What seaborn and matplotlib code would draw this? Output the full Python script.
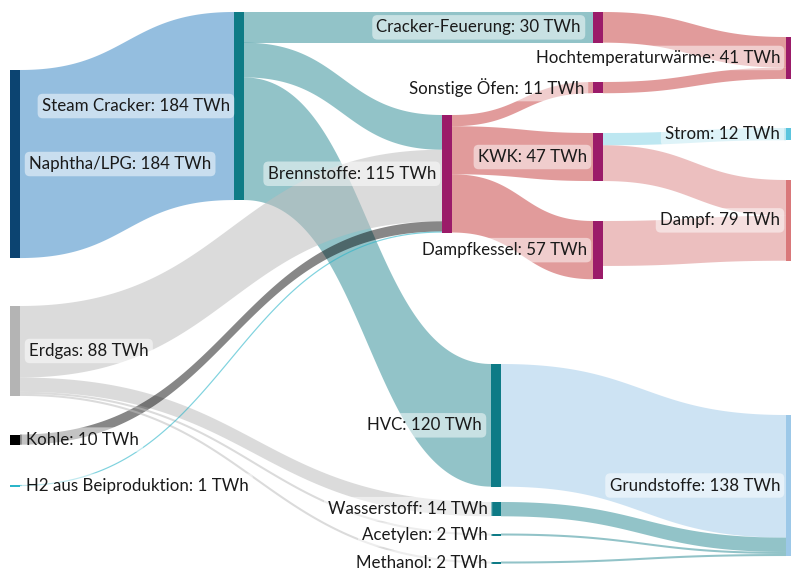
import numpy as np
import matplotlib
matplotlib.use('Agg')
import matplotlib.pyplot as plt
from matplotlib.patches import Rectangle, Polygon
import seaborn as sns


#%%
#--Data (TWh)
node_names = ['Naphtha/LPG', 'Erdgas', 'Kohle', 'H2 aus Beiproduktion',
              'Steam Cracker', 'Brennstoffe', 'HVC', 'Wasserstoff', 'Acetylen', 'Methanol',
              'Cracker-Feuerung', 'Sonstige Öfen', 'KWK', 'Dampfkessel',
              'Hochtemperaturwärme', 'Strom', 'Dampf', 'Grundstoffe']
node_values = [184, 88, 10, 1,
               184, 115, 120, 14, 2, 2,
               30, 11, 47, 57,
               41, 12, 79, 138]

link_source = ['Naphtha/LPG', 'Steam Cracker', 'Steam Cracker', 'Steam Cracker',
               'Erdgas', 'Erdgas', 'Erdgas', 'Erdgas', 'Kohle', 'H2 aus Beiproduktion',
               'Brennstoffe', 'Brennstoffe', 'Brennstoffe',
               'Cracker-Feuerung', 'Sonstige Öfen', 'KWK', 'KWK', 'Dampfkessel',
               'HVC', 'Wasserstoff', 'Acetylen', 'Methanol']
link_target = ['Steam Cracker', 'Cracker-Feuerung', 'Brennstoffe', 'HVC',
               'Brennstoffe', 'Wasserstoff', 'Acetylen', 'Methanol', 'Brennstoffe', 'Brennstoffe',
               'Sonstige Öfen', 'KWK', 'Dampfkessel',
               'Hochtemperaturwärme', 'Hochtemperaturwärme', 'Strom', 'Dampf', 'Dampf',
               'Grundstoffe', 'Grundstoffe', 'Grundstoffe', 'Grundstoffe']
link_value = [184, 30, 34, 120,
              70, 14, 2, 2, 10, 1,
              11, 47, 57,
              30, 11, 12, 35, 44,
              120, 14, 2, 2]


#%%
#--Layout (pixels, figure is 791x572)
px_per_twh = 1.022
node_w = 10
node_x = {'Naphtha/LPG': 10, 'Erdgas': 10, 'Kohle': 10, 'H2 aus Beiproduktion': 10,
          'Steam Cracker': 234, 'Brennstoffe': 442,
          'HVC': 491, 'Wasserstoff': 491, 'Acetylen': 491, 'Methanol': 491,
          'Cracker-Feuerung': 593, 'Sonstige Öfen': 593, 'KWK': 593, 'Dampfkessel': 593,
          'Hochtemperaturwärme': 786, 'Strom': 786, 'Dampf': 786, 'Grundstoffe': 786}
node_y = {'Naphtha/LPG': 70, 'Erdgas': 306, 'Kohle': 434.5, 'H2 aus Beiproduktion': 485,
          'Steam Cracker': 12, 'Brennstoffe': 115,
          'HVC': 364, 'Wasserstoff': 502, 'Acetylen': 533.5, 'Methanol': 561.5,
          'Cracker-Feuerung': 12, 'Sonstige Öfen': 82, 'KWK': 133, 'Dampfkessel': 221,
          'Hochtemperaturwärme': 37, 'Strom': 128, 'Dampf': 180, 'Grundstoffe': 415}
#label on the right of the node for the source column, else left
label_right = ['Naphtha/LPG', 'Erdgas', 'Kohle', 'H2 aus Beiproduktion']
label_gap = {'Steam Cracker': 4, 'Wasserstoff': 3, 'Acetylen': 3, 'Methanol': 3,
             'HVC': 9, 'Cracker-Feuerung': 12, 'Sonstige Öfen': 9}

magenta = '#9b1b69'
teal = '#0e7b86'
node_color = {'Naphtha/LPG': '#0c4471', 'Erdgas': '#b4b4b4', 'Kohle': '#000000',
              'H2 aus Beiproduktion': '#2bb5c9', 'Steam Cracker': teal, 'Brennstoffe': magenta,
              'HVC': teal, 'Wasserstoff': teal, 'Acetylen': teal, 'Methanol': teal,
              'Cracker-Feuerung': magenta, 'Sonstige Öfen': magenta, 'KWK': magenta,
              'Dampfkessel': magenta, 'Hochtemperaturwärme': magenta,
              'Strom': '#5bc5de', 'Dampf': '#d9787a', 'Grundstoffe': '#9cc8e8'}

def link_color(s, t):
    if s == 'Naphtha/LPG':
        return ('#2a7fc0', 0.5)
    if s == 'Erdgas':
        return ('#bebebe', 0.55)
    if s == 'Kohle':
        return ('#000000', 0.47)
    if s == 'H2 aus Beiproduktion':
        return ('#2bb5c9', 0.6)
    if s == 'HVC':
        return ('#9cc8e8', 0.5)
    if t == 'Strom':
        return ('#5bc5de', 0.4)
    if t == 'Dampf':
        return ('#c94a4a', 0.35)
    if node_color[s] == teal:
        return (teal, 0.45)
    return ('#c94a4a', 0.55)


#%%
#--Stack link ends on the nodes (ordered by the other end's centre)
def centre(n):
    return node_y[n] + node_values[node_names.index(n)] * px_per_twh / 2

n_links = len(link_value)
src_off = np.zeros(n_links)
tgt_off = np.zeros(n_links)
for n in node_names:
    outs = sorted([i for i in range(n_links) if link_source[i] == n], key=lambda i: centre(link_target[i]))
    y = node_y[n]
    for i in outs:
        src_off[i] = y
        y += link_value[i] * px_per_twh
    ins = sorted([i for i in range(n_links) if link_target[i] == n], key=lambda i: centre(link_source[i]))
    y = node_y[n]
    for i in ins:
        tgt_off[i] = y
        y += link_value[i] * px_per_twh


#%%
#--Plot
sns.set_theme(style='white')
plt.rcParams['font.family'] = ['Lato', 'DejaVu Sans']

fig = plt.figure(figsize=(7.91, 5.72), dpi=100)
ax = fig.add_axes([0, 0, 1, 1])
ax.set_xlim(0, 791)
ax.set_ylim(572, 0)
ax.axis('off')

t = np.linspace(0, 1, 120)
for i in range(n_links):
    s, g = link_source[i], link_target[i]
    x0 = node_x[s] + node_w
    x1 = node_x[g]
    xm = (x0 + x1) / 2
    xs = (1 - t)**3 * x0 + 3 * (1 - t)**2 * t * xm + 3 * (1 - t) * t**2 * xm + t**3 * x1
    h = 3 * t**2 - 2 * t**3
    th = link_value[i] * px_per_twh
    top = src_off[i] + (tgt_off[i] - src_off[i]) * h
    col, a = link_color(s, g)
    if th < 3:
        ax.plot(xs, top + th / 2, color=col, alpha=a, lw=max(th, 1.2) * 0.72, solid_capstyle='butt')
    else:
        pts = np.vstack([np.column_stack([xs, top]), np.column_stack([xs[::-1], (top + th)[::-1]])])
        ax.add_patch(Polygon(pts, closed=True, facecolor=col, alpha=a, edgecolor='none'))

for n, v in zip(node_names, node_values):
    hgt = max(v * px_per_twh, 1.5)
    ax.add_patch(Rectangle((node_x[n], node_y[n]), node_w, hgt, facecolor=node_color[n], edgecolor='none'))

box = dict(boxstyle='round,pad=0.25,rounding_size=0.3', facecolor='white', alpha=0.5, edgecolor='none')
for n, v in zip(node_names, node_values):
    txt = n + ': ' + str(v) + ' TWh'
    yc = node_y[n] + max(v * px_per_twh, 1.5) / 2
    if n in label_right:
        gap = 6 if n in ['Kohle', 'H2 aus Beiproduktion'] else 9
        ax.text(node_x[n] + node_w + gap, yc, txt, ha='left', va='center', fontsize=12.2,
                color='#1a1a1a', bbox=box)
    else:
        ax.text(node_x[n] - label_gap.get(n, 6), yc, txt, ha='right', va='center', fontsize=12.2,
                color='#1a1a1a', bbox=box)

plt.savefig('out.png', dpi=100)
plt.close()
